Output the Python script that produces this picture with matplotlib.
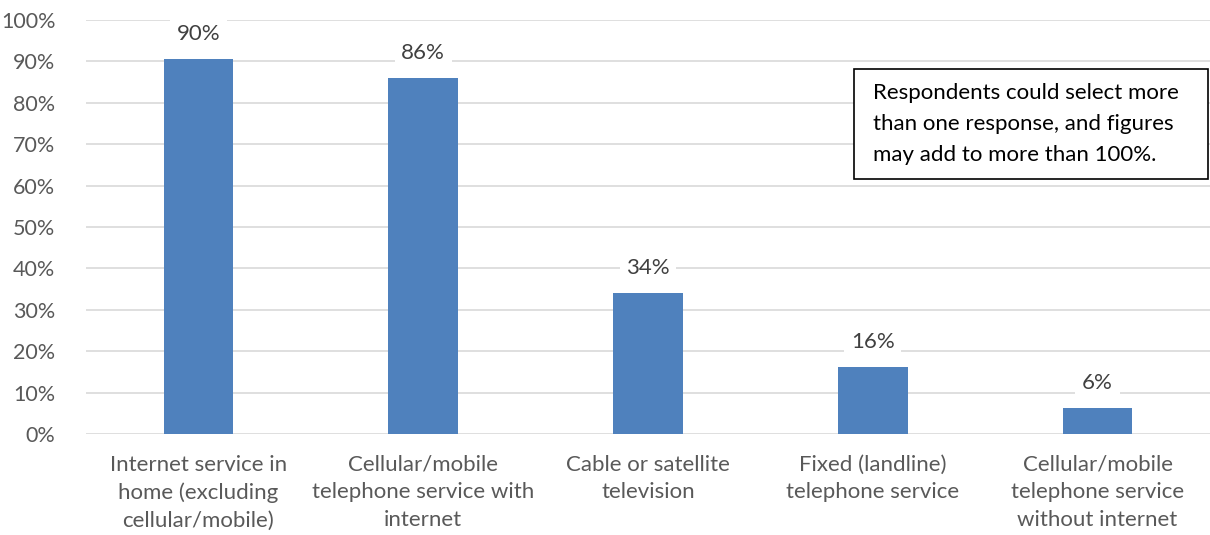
import matplotlib
matplotlib.use("Agg")
import matplotlib.pyplot as plt
from matplotlib.patches import Rectangle

categories = [
    "Internet service in\nhome (excluding\ncellular/mobile)",
    "Cellular/mobile\ntelephone service with\ninternet",
    "Cable or satellite\ntelevision",
    "Fixed (landline)\ntelephone service",
    "Cellular/mobile\ntelephone service\nwithout internet",
]
values = [90.5, 86.0, 34.0, 16.3, 6.4]
labels = ["90%", "86%", "34%", "16%", "6%"]
yticks = [0, 10, 20, 30, 40, 50, 60, 70, 80, 90, 100]
note = "Respondents could select more\nthan one response, and figures\nmay add to more than 100%."

plt.rcParams['font.family'] = ['Lato', 'DejaVu Sans']
fig = plt.figure(figsize=(12.1, 5.35), dpi=100)
ax = fig.add_axes([86/1210, 1 - 434/535, (1210 - 86)/1210, (434 - 20)/535])

x = list(range(len(categories)))
ax.bar(x, values, width=0.31, color="#4f81bd", zorder=3)
ax.set_xlim(-0.5, len(categories) - 0.5)
ax.set_ylim(0, 100)
ax.set_yticks(yticks)
ax.set_yticklabels([f"{t}%" for t in yticks], fontsize=15.5, color="#595959")
ax.set_xticks(x)
ax.set_xticklabels(categories, fontsize=16, color="#595959", linespacing=1.47)
ax.tick_params(axis='both', length=0)
ax.tick_params(axis='x', pad=15)
ax.tick_params(axis='y', pad=22)
ax.grid(axis='y', color="#d9d9d9", linewidth=1.2, zorder=0)
for s in ax.spines.values():
    s.set_visible(False)

for xi, v, lab in zip(x, values, labels):
    ax.annotate(lab, (xi, v), xytext=(0, 18), textcoords='offset points',
                ha='center', va='center', fontsize=16, color="#404040", zorder=5,
                bbox=dict(boxstyle='square,pad=0.3', fc='white', ec='none'))

fig.patches.append(Rectangle((854/1210, 1 - 179/535), (1208 - 854)/1210, (179 - 69)/535,
                             transform=fig.transFigure, fc='white', ec='black', lw=1.2, zorder=10))
fig.text(873/1210, 1 - 124/535, note, fontsize=16, color="black", va='center', ha='left',
         linespacing=1.68, zorder=11)

fig.savefig("out.png", dpi=100)
